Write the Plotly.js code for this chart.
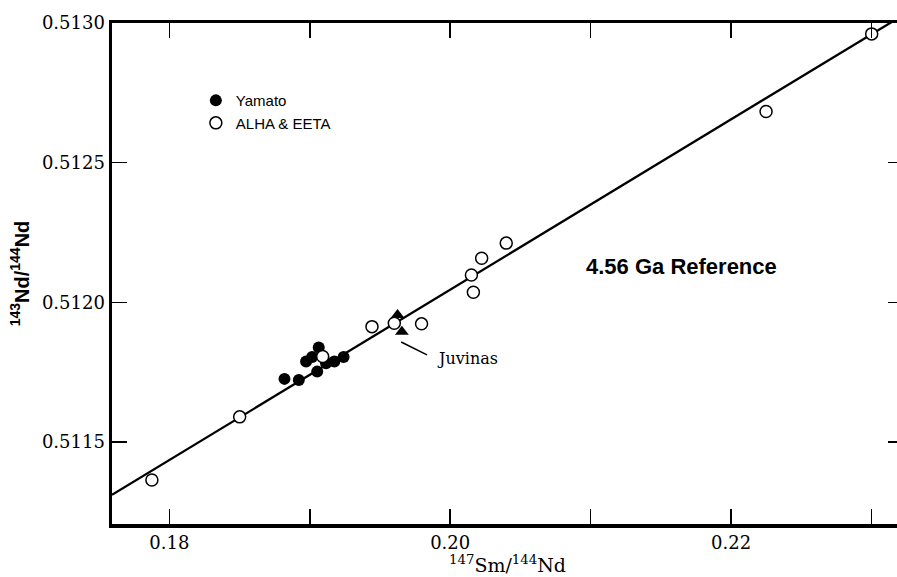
<!DOCTYPE html>
<html>
<head>
<meta charset="utf-8">
<script src="https://cdn.plot.ly/plotly-3.0.1.min.js"></script>
<style>
html,body{margin:0;padding:0;background:#fff;overflow:hidden;}
#chart{width:903px;height:577px;}
</style>
</head>
<body>
<div id="chart"></div>
<script>
// ALHA & EETA (open circles)
const alhaX = [0.17876, 0.18501, 0.19443, 0.19602, 0.19796, 0.19092, 0.20151, 0.20224, 0.20399, 0.20165, 0.22249, 0.23001];
const alhaY = [0.511364, 0.511590, 0.511913, 0.511925, 0.511923, 0.511806, 0.512098, 0.512158, 0.512212, 0.512036, 0.512683, 0.512961];
// Yamato (filled circles)
const yamatoX = [0.18820, 0.18922, 0.18974, 0.19017, 0.19064, 0.19053, 0.19116, 0.19175, 0.19241];
const yamatoY = [0.511726, 0.511722, 0.511788, 0.511804, 0.511838, 0.511752, 0.511782, 0.511788, 0.511804];
// Juvinas (filled triangles)
const juvinasX = [0.19625, 0.19656];
const juvinasY = [0.511955, 0.511895];
// 4.56 Ga reference isochron
const refX = [0.17592, 0.23224];
const refY = [0.511311, 0.513028];
// Axis ticks
const xTickVals = [0.18, 0.19, 0.20, 0.21, 0.22, 0.23];
const xTickText = ['0.18', ' ', '0.20', ' ', '0.22', ' '];
const yTickVals = [0.5115, 0.5120, 0.5125, 0.5130];
const yTickText = ['0.5115', '0.5120', '0.5125', '0.5130'];
const xTitle = '<sup>147</sup>Sm/<sup>144</sup>Nd';
const yTitle = '<sup>143</sup>Nd/<sup>144</sup>Nd';

const serif = 'DejaVu Serif, Liberation Serif, serif';
const sans = 'Liberation Sans, Arial, sans-serif';

const traces = [
  {x: refX, y: refY, mode: 'lines', line: {color: '#000', width: 2.3}, showlegend: false, hoverinfo: 'skip'},
  {x: yamatoX, y: yamatoY, mode: 'markers', name: 'Yamato',
   marker: {symbol: 'circle', size: 12, color: '#000', line: {color: '#000', width: 0}}},
  {x: alhaX, y: alhaY, mode: 'markers', name: 'ALHA & EETA',
   marker: {symbol: 'circle', size: 12, color: '#fff', line: {color: '#000', width: 1.5}}},
  {x: juvinasX, y: juvinasY, mode: 'markers', name: 'Juvinas', showlegend: false,
   marker: {symbol: 'triangle-up', size: 12, color: '#000', line: {color: '#000', width: 0}}}
];

const layout = {
  width: 903, height: 577,
  margin: {l: 112, r: 0, t: 23, b: 53, pad: 0},
  paper_bgcolor: '#fff', plot_bgcolor: '#fff',
  showlegend: true,
  legend: {x: 0.106, y: 0.878, xanchor: 'left', yanchor: 'top', bgcolor: 'rgba(0,0,0,0)',
           font: {family: sans, size: 15, color: '#000'}, itemwidth: 30, tracegroupgap: 0},
  xaxis: {
    range: [0.17592, 0.23224], showgrid: false, zeroline: false,
    showline: true, linecolor: '#000', linewidth: 3.5, mirror: 'ticks',
    ticks: 'inside', ticklen: 15, tickwidth: 1.5, tickcolor: '#000',
    tickvals: xTickVals, ticktext: xTickText,
    tickfont: {family: serif, size: 18, color: '#000'}
  },
  yaxis: {
    range: [0.5112065, 0.5130], showgrid: false, zeroline: false,
    showline: true, linecolor: '#000', linewidth: 3.5, mirror: 'ticks',
    ticks: 'inside', ticklen: 15, tickwidth: 1.5, tickcolor: '#000',
    tickvals: yTickVals, ticktext: yTickText,
    tickfont: {family: serif, size: 18, color: '#000'},
    title: {text: yTitle, font: {family: sans, size: 20, color: '#000', weight: 'bold'}, standoff: 8}
  },
  annotations: [
    {x: 0.5, y: -0.079, xref: 'paper', yref: 'paper', xanchor: 'center', yanchor: 'middle', showarrow: false,
     text: xTitle, font: {family: serif, size: 19, color: '#000'}},
    {x: 0.20951, y: 0.512130, xref: 'x', yref: 'y', xanchor: 'left', yanchor: 'middle', showarrow: false,
     text: '4.56 Ga Reference', font: {family: sans, size: 22, color: '#000', weight: 'bold'}},
    {x: 0.19890, y: 0.511800, xref: 'x', yref: 'y', xanchor: 'left', yanchor: 'middle', showarrow: false,
     text: 'Juvinas', font: {family: serif, size: 16, color: '#000'}}
  ],
  shapes: [
    {type: 'line', xref: 'x', yref: 'y', x0: 0.19651, y0: 0.511858, x1: 0.19835, y1: 0.511812,
     line: {color: '#000', width: 1.5}}
  ]
};

Plotly.newPlot('chart', traces, layout, {displayModeBar: false, staticPlot: true});
</script>
</body>
</html>
